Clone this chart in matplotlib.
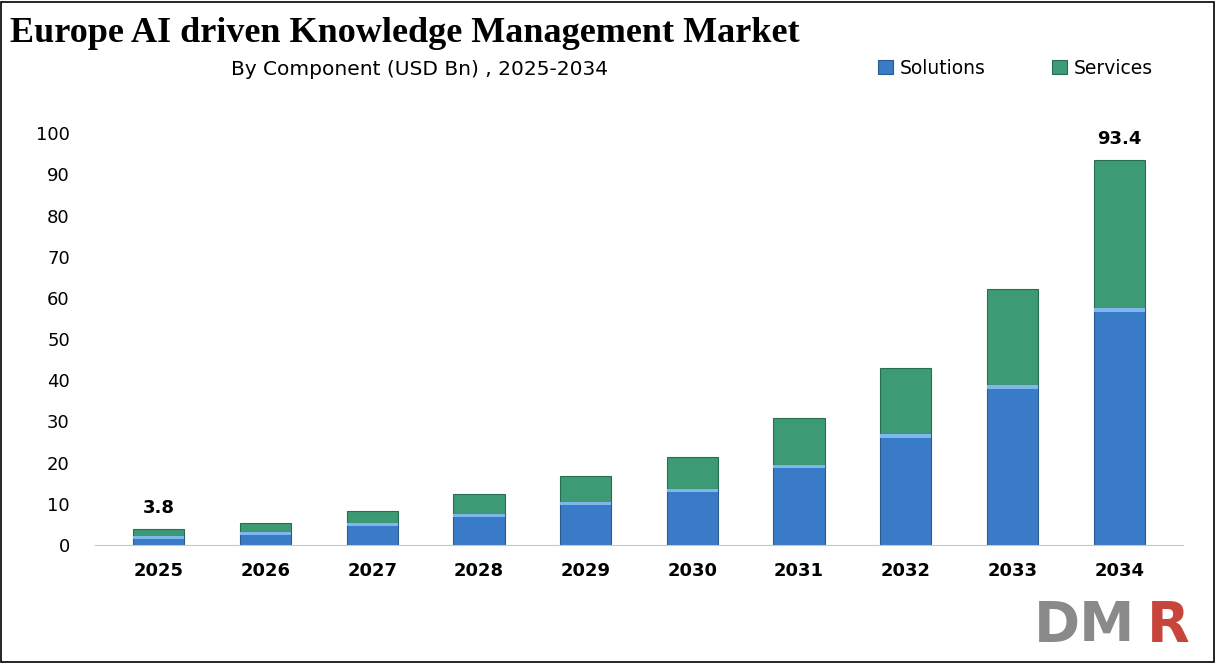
import matplotlib
matplotlib.use("Agg")
import matplotlib.pyplot as plt
from matplotlib.patches import Rectangle

years = ["2025","2026","2027","2028","2029","2030","2031","2032","2033","2034"]
solutions = [2.2, 3.2, 5.3, 7.5, 10.4, 13.6, 19.4, 26.9, 38.8, 57.5]
services = [1.6, 2.1, 3.0, 4.9, 6.3, 7.8, 11.4, 16.1, 23.3, 35.9]
totals_labeled = {0: "3.8", 9: "93.4"}

fig = plt.figure(figsize=(12.16, 6.63), dpi=100)
ax = fig.add_axes([0.078, 0.178, 0.895, 0.621])
c_sol, c_ser = "#3a7bc8", "#3c9a74"
x = range(len(years))
w = 0.48
ax.bar(x, solutions, width=w, color=c_sol, edgecolor="#2a5a90", linewidth=0.8, label="Solutions")
ax.bar(x, services, width=w, bottom=solutions, color=c_ser, edgecolor="#2a6e52", linewidth=0.8, label="Services")
for i in x:
    ax.bar(i, 0.8, width=w, bottom=solutions[i]-0.8, color="#7fb6ee", linewidth=0)
for i, t in totals_labeled.items():
    ax.text(i, solutions[i]+services[i]+3, t, ha="center", va="bottom", fontsize=13, fontweight="bold")
ax.set_ylim(0, 100)
ax.set_xlim(-0.6, 9.6)
ax.set_yticks(range(0, 101, 10))
ax.set_xticks(list(x))
ax.set_xticklabels(years, fontsize=13, fontweight="bold")
ax.tick_params(axis="y", labelsize=13, length=0, pad=18)
ax.tick_params(axis="x", length=0, pad=12)
for s in ["top", "right", "left"]:
    ax.spines[s].set_visible(False)
ax.spines["bottom"].set_color("#c8c8c8")
fig.text(0.008, 0.95, "Europe AI driven Knowledge Management Market", fontsize=26,
         fontweight="bold", family="Liberation Serif", va="center")
fig.text(0.345, 0.895, "By Component (USD Bn) , 2025-2034", fontsize=14.5, ha="center", va="center")
fig.legend(loc="center", bbox_to_anchor=(0.835, 0.897), ncol=2, frameon=False,
           fontsize=13.5, handlelength=0.8, handleheight=0.8, columnspacing=3.5, handletextpad=0.4)
fig.add_artist(Rectangle((0.001, 0.002), 0.997, 0.995, transform=fig.transFigure,
                         fill=False, edgecolor="black", linewidth=1.2))
fig.text(0.85, 0.015, "DM", fontsize=40, fontweight="bold", color="#8a8a8a", va="bottom")
fig.text(0.943, 0.015, "R", fontsize=40, fontweight="bold", color="#c8453c", va="bottom")
fig.savefig("out.png", dpi=100)
